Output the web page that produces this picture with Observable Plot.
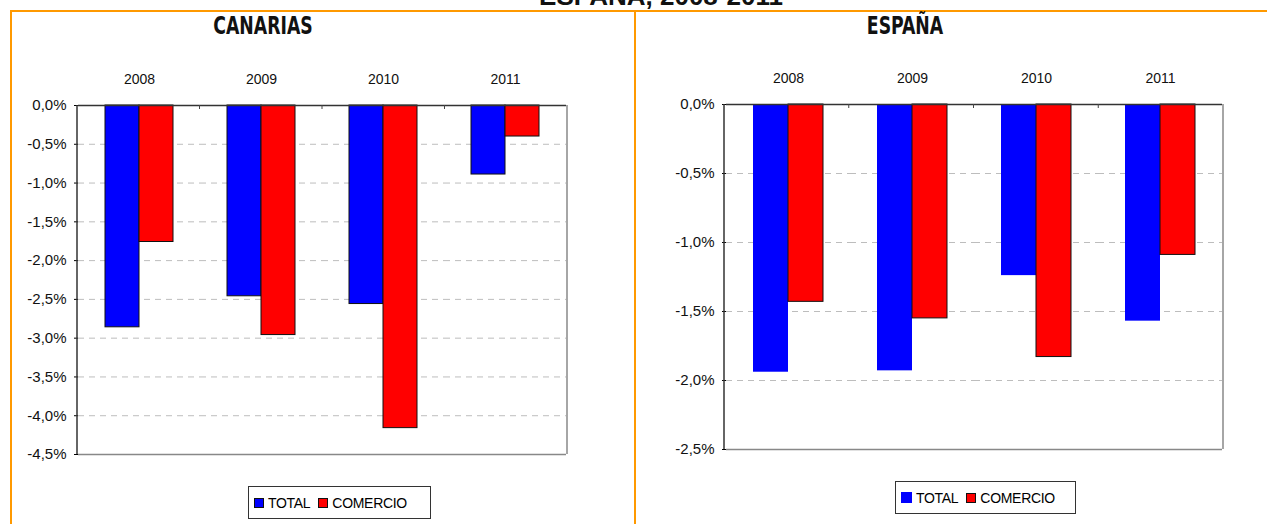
<!DOCTYPE html>
<html><head><meta charset="utf-8">
<script src="https://cdn.jsdelivr.net/npm/d3@7"></script>
<script src="https://cdn.jsdelivr.net/npm/@observablehq/plot@0.6"></script>
<style>
html,body{margin:0;padding:0;background:#fff;}
body{width:1267px;height:524px;position:relative;overflow:hidden;font-family:"Liberation Sans",Arial,sans-serif;color:#000;}
.abs{position:absolute;}
.abs svg text{font-family:"Liberation Sans",Arial,sans-serif !important;font-size:15px;fill:#111;}
.abs svg text.yr{font-size:14px;}
.title{position:absolute;font-family:"Liberation Sans Narrow","DejaVu Sans Condensed","Liberation Sans",sans-serif;font-weight:bold;font-size:24px;line-height:24px;white-space:nowrap;transform:translateX(-50%) scaleX(0.8);color:#111;}
.toptitle{position:absolute;font-family:"Liberation Sans",Arial,sans-serif;font-weight:bold;font-size:26px;line-height:26px;white-space:nowrap;transform:translateX(-50%);color:#111;}
.legend{position:absolute;border:1px solid #333;display:flex;align-items:center;font-size:14px;box-sizing:border-box;padding-left:5px;white-space:nowrap;letter-spacing:-0.3px;}
.sw{display:inline-block;box-sizing:border-box;width:10px;height:10px;border:1px solid #111;margin-right:8px;}
.gap{display:inline-block;width:8px;}
.orange{position:absolute;background:#ff9900;}
</style></head><body>
<div id="root"></div>
<script>
// ---- data ----
const years = ["2008", "2009", "2010", "2011"];
const seriesNames = ["TOTAL", "COMERCIO"];
const seriesColors = ["#0000ff", "#ff0000"];
const canariasTotal = [-2.86, -2.46, -2.56, -0.89];
const canariasComercio = [-1.76, -2.96, -4.16, -0.40];
const espanaTotal = [-1.94, -1.93, -1.24, -1.57];
const espanaComercio = [-1.43, -1.55, -1.83, -1.09];
const canariasTicks = [0, -0.5, -1, -1.5, -2, -2.5, -3, -3.5, -4, -4.5];
const espanaTicks = [0, -0.5, -1, -1.5, -2, -2.5];
const pageTitle = "ESPAÑA, 2008-2011";
const panelTitles = ["CANARIAS", "ESPAÑA"];

const fmt = v => (v < 0 ? "-" : "") + Math.abs(v).toFixed(1).replace(".", ",") + "%";

function makeChart({total, comercio, ticks, width, height, mt, mr, mb, ml, outlineTotal}) {
  const data = years.flatMap((y, i) => [
    {year: y, series: seriesNames[0], value: total[i]},
    {year: y, series: seriesNames[1], value: comercio[i]}
  ]);
  const yMin = d3.min(ticks);
  const grid = ticks.filter(t => t !== 0 && t !== yMin);
  const plot = Plot.plot({
    width, height,
    marginTop: mt, marginRight: mr, marginBottom: mb, marginLeft: ml,
    style: {fontFamily: "'Liberation Sans', Arial, sans-serif", fontSize: "15px", color: "#000", background: "transparent", overflow: "visible"},
    fx: {domain: years, padding: 0, axis: "top", tickSize: 0, tickPadding: 22, label: null},
    x: {domain: seriesNames, paddingInner: 0, paddingOuter: 0.75, axis: null},
    y: {domain: [yMin, 0], ticks: ticks, tickFormat: fmt, tickSize: 4, tickPadding: 8, label: null, grid: false},
    color: {domain: seriesNames, range: seriesColors},
    marks: [
      Plot.ruleY(grid, {stroke: "#bdbdbd", strokeDasharray: "6,5"}),
      Plot.ruleY([yMin], {stroke: "#888", strokeWidth: 1.5}),
      Plot.barY(data.filter(d => d.series === seriesNames[0]), {fx: "year", x: "series", y: "value", fill: "series", stroke: outlineTotal ? "#111" : "none", strokeWidth: 1}),
      Plot.barY(data.filter(d => d.series === seriesNames[1]), {fx: "year", x: "series", y: "value", fill: "series", stroke: "#111", strokeWidth: 1}),
      Plot.ruleY([0], {stroke: "#333", strokeWidth: 1.5})
    ]
  });
  const svg = d3.select(plot.tagName.toLowerCase() === "svg" ? plot : plot.querySelector("svg"));
  const fxs = plot.scale("fx");
  const ys = plot.scale("y");
  const [r0, r1] = fxs.range;
  const [yb, yt] = ys.range;
  const top = Math.min(yb, yt), bot = Math.max(yb, yt);
  const g = svg.append("g");
  g.append("line").attr("x1", r1).attr("x2", r1).attr("y1", top).attr("y2", bot).attr("stroke", "#888").attr("stroke-width", 1.5);
  g.append("line").attr("x1", r0).attr("x2", r0).attr("y1", top).attr("y2", bot).attr("stroke", "#333").attr("stroke-width", 1.5);
  const step = (r1 - r0) / years.length;
  for (let i = 1; i < years.length; i++) {
    g.append("line").attr("x1", r0 + i * step).attr("x2", r0 + i * step).attr("y1", top).attr("y2", top + 4).attr("stroke", "#444");
  }
  svg.selectAll("text").filter(function() { return /^\d{4}$/.test(this.textContent); }).classed("yr", true);
  return plot;
}

const root = document.getElementById("root");
function place(el, left, top) {
  const d = document.createElement("div");
  d.className = "abs"; d.style.left = left + "px"; d.style.top = top + "px";
  d.appendChild(el); root.appendChild(d); return d;
}

function orange(l, t, w, h) { const d = document.createElement("div"); d.className = "orange"; Object.assign(d.style, {left: l + "px", top: t + "px", width: w + "px", height: h + "px"}); root.appendChild(d); }
orange(10, 10, 1257, 2);
orange(10, 10, 2, 514);
orange(634, 10, 2, 514);

const tt = document.createElement("div"); tt.className = "toptitle"; tt.textContent = pageTitle; tt.style.left = "661px"; tt.style.top = "-17px"; root.appendChild(tt);
const t1 = document.createElement("div"); t1.className = "title"; t1.textContent = panelTitles[0]; t1.style.left = "263px"; t1.style.top = "14px"; root.appendChild(t1);
const t2 = document.createElement("div"); t2.className = "title"; t2.textContent = panelTitles[1]; t2.style.left = "905px"; t2.style.top = "14px"; root.appendChild(t2);

place(makeChart({total: canariasTotal, comercio: canariasComercio, ticks: canariasTicks, width: 630, height: 524, mt: 105, mr: 63, mb: 70, ml: 77, outlineTotal: true}), 0, 0);
place(makeChart({total: espanaTotal, comercio: espanaComercio, ticks: espanaTicks, width: 627, height: 524, mt: 104, mr: 44, mb: 75, ml: 84, outlineTotal: false}), 640, 0);

function legend(left, top, width, height, borderTotal) {
  const d = document.createElement("div"); d.className = "legend";
  Object.assign(d.style, {left: left + "px", top: top + "px", width: width + "px", height: height + "px"});
  seriesNames.forEach((s, i) => {
    const sw = document.createElement("span"); sw.className = "sw"; sw.style.background = seriesColors[i];
    if (i === 0 && !borderTotal) { sw.style.border = "none"; sw.style.width = "11px"; sw.style.height = "11px"; }
    sw.style.marginRight = "4px";
    d.appendChild(sw);
    const tx = document.createElement("span"); tx.textContent = s; d.appendChild(tx);
    if (i === 0) { const g = document.createElement("span"); g.className = "gap"; d.appendChild(g); }
  });
  root.appendChild(d);
}
legend(248, 486, 183, 33, true);
legend(895, 481, 181, 33, false);
</script>
</body></html>
